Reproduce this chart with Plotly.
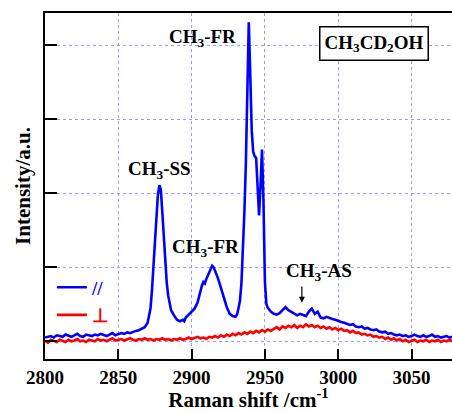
import plotly.graph_objects as go

# ---------------- data ----------------
blue_shift = [2800, 2802, 2804, 2806, 2808, 2810, 2812, 2814, 2816, 2818, 2820, 2822, 2824, 2826,
              2828, 2830, 2832, 2834, 2836, 2838, 2840, 2842, 2844, 2846, 2848, 2850, 2852, 2854,
              2856, 2858, 2860, 2862, 2864, 2866, 2868, 2870, 2872, 2873, 2874, 2875, 2876, 2877,
              2878, 2879, 2880, 2881, 2882, 2883, 2884, 2885, 2886, 2888, 2890, 2892, 2894, 2895,
              2896, 2898, 2900, 2902, 2904, 2905, 2906, 2907, 2908, 2909, 2910, 2912, 2914, 2915,
              2916, 2918, 2920, 2922, 2924, 2926, 2928, 2930, 2931, 2932, 2933, 2934, 2935, 2936,
              2937, 2938, 2939, 2940, 2941, 2942, 2943, 2944, 2945, 2946, 2947, 2948, 2949, 2950,
              2951, 2952, 2954, 2956, 2958, 2960, 2962, 2964, 2966, 2968, 2970, 2972, 2974, 2976,
              2978, 2980, 2982, 2984, 2986, 2988, 2990, 2992, 2994, 2996, 2998, 3000, 3002, 3004,
              3006, 3008, 3010, 3012, 3014, 3016, 3018, 3020, 3022, 3024, 3026, 3028, 3030, 3032,
              3034, 3036, 3038, 3040, 3042, 3044, 3046, 3048, 3050, 3052, 3054, 3056, 3058, 3060,
              3062, 3064, 3066, 3068, 3070, 3072, 3074, 3076, 3078]
blue_intensity = [0.05, 0.06, 0.07, 0.05, 0.08, 0.07, 0.06, 0.09, 0.07, 0.06, 0.08, 0.10, 0.07, 0.06,
                  0.09, 0.08, 0.07, 0.09, 0.08, 0.10, 0.08, 0.07, 0.09, 0.11, 0.08, 0.09, 0.11, 0.10,
                  0.12, 0.11, 0.13, 0.14, 0.15, 0.17, 0.19, 0.25, 0.45, 0.70, 1.00, 1.35, 1.70, 1.98,
                  2.11, 2.05, 1.75, 1.40, 1.05, 0.80, 0.62, 0.50, 0.42, 0.35, 0.29, 0.27, 0.29, 0.27,
                  0.32, 0.36, 0.40, 0.44, 0.52, 0.60, 0.70, 0.75, 0.80, 0.78, 0.84, 0.92, 1.02, 1.00,
                  0.95, 0.85, 0.72, 0.58, 0.46, 0.37, 0.34, 0.33, 0.36, 0.45, 0.55, 0.79, 1.20, 1.75,
                  2.40, 3.40, 4.31, 3.60, 2.85, 2.56, 2.50, 2.48, 2.15, 1.70, 2.10, 2.59, 1.90, 0.80,
                  0.50, 0.45, 0.40, 0.37, 0.36, 0.38, 0.42, 0.46, 0.42, 0.40, 0.38, 0.35, 0.37, 0.36,
                  0.34, 0.40, 0.44, 0.37, 0.40, 0.32, 0.31, 0.33, 0.31, 0.30, 0.29, 0.27, 0.26, 0.25,
                  0.24, 0.22, 0.23, 0.20, 0.19, 0.20, 0.17, 0.18, 0.16, 0.15, 0.16, 0.13, 0.12, 0.13,
                  0.10, 0.11, 0.09, 0.08, 0.09, 0.07, 0.08, 0.06, 0.07, 0.09, 0.07, 0.06, 0.08, 0.06,
                  0.07, 0.09, 0.06, 0.07, 0.05, 0.06, 0.07, 0.05, 0.06]

red_shift = list(range(2800, 3080, 2))
red_intensity = [0.01, -0.02, 0.02, 0.00, -0.01, 0.02, 0.01, -0.01, 0.02, 0.00, 0.01, 0.03, 0.00, 0.01,
                 -0.01, 0.02, 0.01, 0.00, 0.03, 0.01, 0.02, 0.00, 0.02, 0.04, 0.01, 0.02, 0.03, 0.01,
                 0.02, 0.04, 0.02, 0.01, 0.03, 0.02, 0.04, 0.02, 0.03, 0.01, 0.03, 0.02, 0.04, 0.02,
                 0.03, 0.01, 0.03, 0.02, 0.04, 0.02, 0.03, 0.05, 0.03, 0.04, 0.06, 0.04, 0.05, 0.03,
                 0.06, 0.05, 0.07, 0.05, 0.08, 0.06, 0.09, 0.07, 0.10, 0.08, 0.11, 0.09, 0.12, 0.10,
                 0.13, 0.11, 0.14, 0.12, 0.15, 0.13, 0.16, 0.14, 0.17, 0.19, 0.16, 0.20, 0.18, 0.21,
                 0.19, 0.22, 0.18, 0.21, 0.19, 0.23, 0.20, 0.22, 0.19, 0.21, 0.18, 0.20, 0.17, 0.19,
                 0.16, 0.18, 0.15, 0.17, 0.14, 0.15, 0.12, 0.14, 0.11, 0.12, 0.09, 0.10, 0.08, 0.09,
                 0.06, 0.07, 0.05, 0.06, 0.03, 0.05, 0.02, 0.04, 0.01, 0.03, 0.00, 0.02, -0.01, 0.01,
                 0.02, -0.01, 0.01, 0.00, 0.02, -0.01, 0.01, 0.00, 0.02, -0.01, 0.01, 0.00, 0.02, 0.00]

x_ticks = [2800, 2850, 2900, 2950, 3000, 3050]
x_tick_labels = ["2800", "2850", "2900", "2950", "3000", "3050"]
y_grid = [0, 1, 2, 3, 4]

peak_labels = ["CH<sub>3</sub>-FR", "CH<sub>3</sub>-SS", "CH<sub>3</sub>-FR", "CH<sub>3</sub>-AS"]
peak_label_x = [2907.7, 2878.4, 2909.8, 2986.8]
peak_label_y = [4.10, 2.31, 1.26, 0.93]
sample_name = "CH<sub>3</sub>CD<sub>2</sub>OH"

FONT = "Liberation Serif, Times New Roman, serif"

fig = go.Figure()
fig.add_trace(go.Scatter(x=red_shift, y=red_intensity, mode="lines",
                         line=dict(color="#ff0000", width=2.6),
                         name='<span style="color:#ff0000">⊥</span>'))
fig.add_trace(go.Scatter(x=blue_shift, y=blue_intensity, mode="lines",
                         line=dict(color="#0000ff", width=2.6),
                         name='<span style="color:#0000ff">//</span>'))

for t, x, y in zip(peak_labels, peak_label_x, peak_label_y):
    fig.add_annotation(x=x, y=y, text=t, showarrow=False,
                       font=dict(family=FONT, size=19, color="black", weight="bold"))

fig.add_annotation(x=2975.2, y=0.52, ax=2975.2, ay=0.76, axref="x", ayref="y",
                   text="", showarrow=True, arrowhead=2, arrowsize=1, arrowwidth=1.2,
                   arrowcolor="black")

fig.add_annotation(x=3024.3, y=4.03, text=sample_name, showarrow=False,
                   font=dict(family=FONT, size=19, color="black", weight="bold"),
                   bordercolor="black", borderwidth=1.5, borderpad=4, bgcolor="white")

fig.update_layout(
    width=452, height=412,
    margin=dict(l=45, r=0, t=13, b=53),
    plot_bgcolor="white", paper_bgcolor="white",
    font=dict(family=FONT, color="black"),
    showlegend=True,
    legend=dict(x=0.017, y=0.262, xanchor="left", yanchor="top",
                bgcolor="rgba(0,0,0,0)", itemwidth=30, traceorder="reversed",
                font=dict(family=FONT, size=19, weight="bold")),
    xaxis=dict(range=[2800, 3077.6], tickvals=x_ticks, ticktext=x_tick_labels,
               automargin=False,
               ticks="inside", ticklen=10, tickwidth=2, tickcolor="black",
               showline=True, linecolor="black", linewidth=2, mirror=True,
               showgrid=True, gridcolor="#9a9aff", gridwidth=1, griddash="dot",
               zeroline=False,
               tickfont=dict(family=FONT, size=19, color="black", weight="bold"),
               title=dict(text="Raman shift /cm<sup>-1</sup>", standoff=6,
                          font=dict(family=FONT, size=21, color="black", weight="bold"))),
    yaxis=dict(range=[-0.240, 4.437], tickvals=y_grid, showticklabels=False,
               automargin=False,
               ticks="inside", ticklen=12, tickwidth=2, tickcolor="black",
               showline=True, linecolor="black", linewidth=2, mirror=False,
               showgrid=True, gridcolor="#9a9aff", gridwidth=1, griddash="dot",
               zeroline=False,
               title=dict(text="Intensity/a.u.", standoff=7,
                          font=dict(family=FONT, size=21, color="black", weight="bold"))),
)

fig.write_html("out.html", config={"displayModeBar": False},
               post_script="document.body.style.margin='0';document.body.style.overflow='hidden';")
